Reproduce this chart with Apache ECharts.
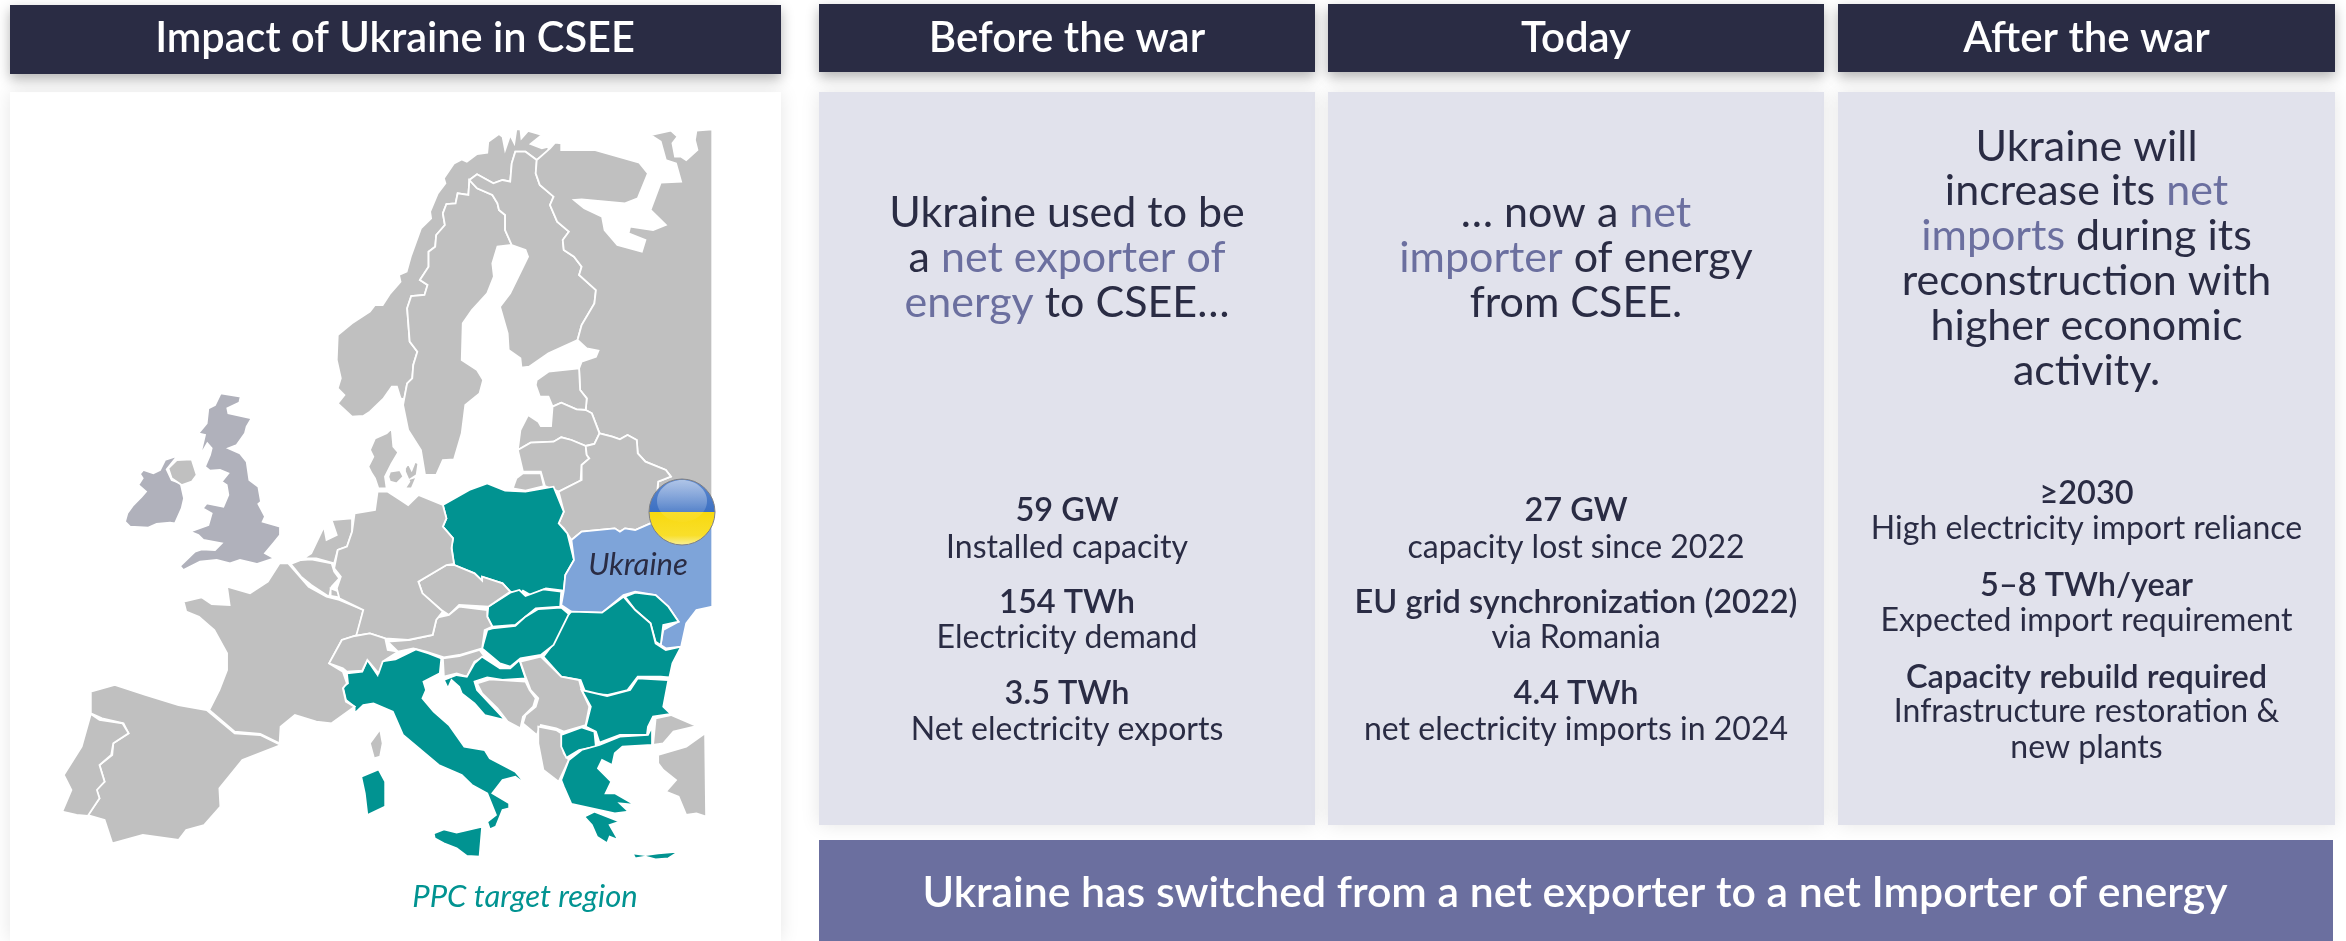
<!DOCTYPE html>
<html>
<head>
<meta charset="utf-8">
<title>Impact of Ukraine in CSEE</title>
<script src="https://cdn.jsdelivr.net/npm/echarts@6/dist/echarts.min.js"></script>
<style>
  html, body { margin: 0; padding: 0; background: #fff; }
  #chart { width: 2346px; height: 941px; }
</style>
</head>
<body>
<div id="chart"></div>
<script>
// Text content
const MAP_TITLE = 'Impact of Ukraine in CSEE';
const COLUMN_TITLES = ['Before the war', 'Today', 'After the war'];
const INTRO_BEFORE = ['Ukraine used to be', 'a {hi|net exporter of}', '{hi|energy} to CSEE…'];
const INTRO_TODAY = ['… now a {hi|net}', '{hi|importer} of energy', 'from CSEE.'];
const INTRO_AFTER = ['Ukraine will', 'increase its {hi|net}', '{hi|imports} during its', 'reconstruction with', 'higher economic', 'activity.'];
const STATS_BEFORE = ['59 GW', 'Installed capacity', '154 TWh', 'Electricity demand', '3.5 TWh', 'Net electricity exports'];
const STATS_TODAY = ['27 GW', 'capacity lost since 2022', 'EU grid synchronization (2022)', 'via Romania', '4.4 TWh', 'net electricity imports in 2024'];
const STATS_AFTER = ['≥2030', 'High electricity import reliance', '5–8 TWh/year', 'Expected import requirement', 'Capacity rebuild required', 'Infrastructure restoration &', 'new plants'];
const STATS_AFTER_BOLD = [0, 2, 4];
const TAKEAWAY = 'Ukraine has switched from a net exporter to a net Importer of energy';
const UKRAINE_LABEL = 'Ukraine';
const REGION_LABEL = 'PPC target region';

// Country outlines
const NO_SE = [[920,540],[918,585],[897,580],[893,610],[875,612],[868,640],[872,675],[855,705],[853,740],[840,755],[840,800],[823,840],[838,855],[832,885],[806,888],[798,925],[803,1025],[818,1055],[810,1095],[808,1135],[798,1150],[792,1198]];
const FI_SE = [[920,540],[935,565],[965,585],[975,610],[978,630],[990,645],[990,690],[1003,735]];
const FI_RU = [[1052,480],[1050,520],[1058,555],[1085,590],[1078,615],[1092,665],[1115,695],[1103,720],[1105,750],[1125,770],[1140,800],[1135,825],[1168,870],[1165,910],[1140,975],[1132,1020]];

const NORWAY = [[690,1250],[662,1210],[675,1185],[662,1165],[668,1135],[660,1080],[662,1005],[690,970],[725,935],[735,915],[750,915],[765,880],[785,845],[782,825],[797,815],[805,770],[825,685],[845,655],[843,635],[858,580],[873,550],[870,535],[890,490],[905,478],[915,485],[935,462],[955,458],[957,425],[978,402],[985,410],[990,450],[1000,405],[1008,430],[1012,388],[1020,388],[1022,415],[1035,393],[1062,405],[1040,432],[1062,445],[1075,440],[1075,455],[1052,480],[1030,455],[1010,455],[1003,490],[1000,545],[985,540],[967,550],[935,523],[920,540],...NO_SE.slice(1),[785,1195],[778,1160],[768,1160],[752,1195],[725,1235],[712,1248]];
const SWEDEN = [...FI_SE,[975,740],[965,790],[968,830],[955,880],[925,930],[907,970],[905,1080],[935,1110],[947,1140],[940,1180],[912,1215],[905,1300],[890,1378],[868,1380],[855,1425],[833,1425],[825,1350],[800,1290],[790,1215],...NO_SE.slice().reverse()];
const FINLAND = [...FI_SE,[1030,750],[1035,770],[1000,880],[980,920],[995,1000],[997,1050],[1020,1075],[1022,1103],[1037,1100],[1075,1060],...FI_RU.slice().reverse(),[1030,455],[1010,455],[1003,490],[1000,545],[985,540],[967,550],[935,523]];
const RUSSIA_N = [[1396,388],[1365,392],[1362,420],[1367,450],[1345,480],[1335,470],[1323,470],[1318,430],[1328,410],[1315,392],[1275,405],[1295,425],[1305,480],[1325,490],[1335,545],[1295,548],[1275,630],[1305,675],[1280,690],[1235,680],[1232,700],[1265,720],[1258,755],[1210,735],[1185,690],[1180,650],[1145,625],[1125,600],[1140,598],[1225,610],[1250,595],[1270,520],[1253,488],[1165,450],[1100,450],[1100,430],[1088,428],[1078,445],...FI_RU,[1150,1045],[1173,1052],[1168,1070],[1140,1085],[1135,1105],[1137,1170],[1150,1195],[1148,1230],[1160,1240],[1175,1300],[1200,1310],[1215,1318],[1230,1305],[1248,1320],[1250,1360],[1265,1385],[1305,1410],[1315,1430]];
const RUSSIA_S = [[1290,65],[1285,150],[1275,190],[1396,150]];
const ESTONIA = [[1135,1105],[1137,1170],[1150,1195],[1148,1230],[1130,1228],[1100,1208],[1083,1220],[1075,1190],[1058,1190],[1050,1155],[1052,1140],[1075,1115]];
const LATVIA = [[1148,1230],[1160,1240],[1175,1300],[1165,1332],[1148,1338],[1120,1320],[1100,1312],[1085,1325],[1040,1328],[1015,1350],[1020,1290],[1035,1245],[1055,1265],[1060,1278],[1080,1278],[1083,1220],[1100,1208],[1130,1228]];
const LITHUANIA_N = [[1015,1350],[1040,1328],[1085,1325],[1100,1312],[1120,1320],[1148,1338],[1150,1365],[1155,1375],[1140,1395],[1138,1440]];
const LITHUANIA_S = [[1140,60],[1095,95],[1068,78],[1060,35],[1025,35]];
const BELARUS_N = [[1148,1338],[1165,1332],[1175,1300],[1200,1310],[1215,1318],[1230,1305],[1248,1320],[1250,1360],[1265,1385],[1305,1410],[1315,1430]];
const BELARUS_S = [[1290,65],[1285,150],[1275,190],[1245,210],[1225,205],[1215,215],[1205,205],[1140,215],[1120,240],[1105,205],[1095,190],[1105,155],[1095,95],[1140,60],[1140,15],[1155,-5],[1150,-15]];

const KALININGRAD = [[1005,85],[1012,55],[1025,40],[1060,40],[1066,78],[1030,92]];
const POLAND = [[868,135],[920,90],[955,70],[990,92],[1030,95],[1085,80],[1105,155],[1095,190],[1112,220],[1125,300],[1108,345],[1105,392],[1070,385],[1040,405],[1025,392],[1018,405],[1000,395],[985,370],[945,350],[945,362],[930,340],[890,315],[885,260],[888,235],[868,200],[875,175]];
const UKRAINE = [[1120,240],[1140,215],[1205,205],[1215,215],[1225,205],[1245,210],[1275,190],[1396,150],[1396,440],[1365,450],[1345,490],[1335,560],[1305,565],[1295,555],[1300,510],[1330,485],[1310,440],[1285,405],[1245,395],[1222,405],[1180,458],[1120,455],[1100,435],[1105,392],[1108,345],[1125,300]];
const MOLDOVA = [[1225,410],[1245,398],[1285,405],[1310,440],[1330,485],[1300,495],[1295,555],[1285,545],[1275,490],[1245,450]];
const ROMANIA = [[1120,455],[1180,458],[1222,410],[1245,450],[1275,490],[1285,550],[1305,570],[1335,560],[1318,610],[1312,652],[1295,650],[1250,650],[1230,690],[1190,705],[1148,700],[1138,660],[1100,650],[1065,590],[1080,560],[1110,470]];
const SLOVAKIA = [[957,440],[1000,398],[1018,390],[1030,408],[1065,388],[1100,395],[1098,440],[1050,445],[1030,470],[1010,495],[965,500],[955,470]];
const HUNGARY = [[965,505],[1010,498],[1030,470],[1055,447],[1100,443],[1115,462],[1085,555],[1060,585],[1020,595],[1000,620],[980,610],[945,565],[955,510]];
const CZECHIA = [[820,365],[875,315],[890,315],[930,340],[945,362],[945,350],[985,370],[1000,395],[957,440],[900,435],[880,465],[865,450],[828,400]];
const AUSTRIA = [[850,475],[880,465],[900,440],[955,450],[955,470],[965,500],[950,510],[945,565],[900,585],[870,592],[835,575],[810,565],[780,575],[760,545],[800,540],[848,525],[855,480]];
const SLOVENIA = [[868,595],[900,588],[940,570],[950,590],[930,605],[915,650],[895,640],[870,650]];
const CROATIA = [[870,660],[895,645],[915,650],[930,610],[945,590],[980,625],[1000,625],[1018,600],[1030,655],[985,660],[955,652],[930,665],[935,690],[990,780],[950,765],[930,730],[905,700],[900,680],[885,660],[878,685]];
const BOSNIA = [[935,670],[960,658],[1030,665],[1038,690],[1050,715],[1045,740],[1025,770],[1020,805],[995,785],[975,745],[945,700]];
const SERBIA = [[1020,605],[1060,590],[1100,650],[1135,660],[1140,690],[1155,740],[1148,795],[1105,815],[1090,805],[1060,795],[1052,825],[1025,790],[1030,765],[1050,740],[1055,715],[1040,690],[1030,650]];
const ALBANIA = [[1055,800],[1090,810],[1100,820],[1105,880],[1115,900],[1095,965],[1065,930],[1055,850]];
const MACEDONIA = [[1100,825],[1140,802],[1165,815],[1168,860],[1135,870],[1110,893],[1100,860]];
const BULGARIA = [[1140,690],[1190,708],[1235,690],[1250,655],[1310,660],[1300,740],[1315,762],[1280,770],[1270,800],[1268,825],[1215,825],[1175,848],[1168,815],[1148,800],[1158,740]];
const GREECE = [[1115,900],[1140,870],[1175,855],[1215,830],[1270,825],[1278,800],[1278,855],[1220,860],[1205,880],[1200,915],[1180,900],[1172,925],[1198,965],[1187,1000],[1205,1000],[1245,1035],[1215,1030],[1232,1055],[1205,1060],[1120,1032],[1105,980],[1100,960]];
const PELOPONNESE = [[1145,1070],[1165,1055],[1215,1085],[1195,1095],[1212,1140],[1195,1130],[1190,1150],[1170,1130],[1160,1095]];
const CRETE = [[1240,1180],[1265,1185],[1290,1180],[1330,1175],[1310,1195],[1285,1198],[1265,1190],[1245,1195]];
const TURKEY_EU = [[1285,775],[1315,765],[1365,798],[1320,815],[1300,850],[1280,855]];
const TURKEY_AS = [[1290,885],[1345,860],[1382,820],[1384,1070],[1365,1060],[1345,1065],[1330,1010],[1305,995],[1325,960],[1300,930],[1290,910]];
const ITALY = [[680,640],[710,635],[720,600],[740,645],[745,605],[775,598],[815,568],[840,580],[865,595],[862,640],[830,665],[835,690],[828,715],[850,755],[880,795],[910,860],[950,870],[960,895],[1010,935],[1032,975],[1010,950],[985,960],[965,1000],[998,1030],[998,1045],[985,1050],[972,1100],[960,1108],[955,1085],[972,1065],[955,1000],[925,975],[905,945],[860,915],[790,825],[770,755],[732,730],[712,735],[695,760],[695,740],[678,720],[672,680],[682,670]];
const SICILY = [[850,1120],[870,1108],[895,1118],[945,1100],[940,1190],[915,1188],[895,1165],[870,1150],[852,1135]];
const SARDINIA = [[708,950],[742,928],[755,965],[755,1040],[720,1065],[715,1000]];
const CORSICA = [[725,850],[745,808],[750,850],[745,890],[733,895]];
const FRANCE = [[360,425],[395,412],[415,432],[450,435],[445,380],[490,400],[525,365],[548,310],[565,310],[605,380],[640,410],[665,420],[712,450],[700,525],[670,540],[645,610],[672,635],[680,670],[672,685],[678,725],[695,740],[650,790],[620,785],[578,765],[550,800],[548,850],[510,822],[460,815],[410,750],[430,690],[445,630],[445,580],[420,510],[390,470],[365,455]];
const SPAIN = [[178,695],[225,675],[285,705],[350,735],[405,750],[460,820],[510,825],[550,855],[475,900],[430,985],[432,1040],[400,1095],[365,1110],[350,1140],[280,1125],[220,1150],[205,1080],[172,1065],[195,1015],[188,985],[205,965],[195,915],[220,885],[222,850],[252,820],[242,790],[200,775],[178,760]];
const PORTUGAL = [[178,762],[195,780],[240,790],[252,820],[222,850],[218,885],[195,915],[205,965],[190,990],[195,1015],[172,1068],[150,1065],[122,1055],[140,990],[130,960],[125,945],[160,860]];
const BELGIUM = [[570,312],[590,300],[610,298],[650,310],[655,335],[665,355],[650,380],[645,410],[610,375],[590,350]];
const LUXEMBOURG = [[648,385],[665,395],[665,412],[648,408]];
const NETHERLANDS = [[595,295],[610,280],[635,200],[640,240],[660,225],[650,180],[690,175],[690,215],[680,260],[662,270],[655,310],[620,295]];
const GERMANY = [[695,160],[735,150],[740,95],[760,95],[785,120],[800,135],[820,105],[868,135],[875,175],[868,200],[888,235],[885,265],[890,312],[875,315],[820,365],[828,400],[868,455],[855,480],[848,525],[800,540],[755,535],[725,520],[698,528],[712,450],[665,415],[660,385],[668,350],[655,325],[662,270],[680,260],[690,215]];
const SWITZERLAND = [[645,610],[670,540],[695,528],[725,520],[755,535],[760,570],[780,575],[750,605],[742,640],[720,600],[710,632],[680,635],[672,625]];

// read from the close-ups of Britain and Denmark
const BRITAIN = [[302,40],[362,50],[358,68],[322,85],[325,100],[395,115],[380,140],[375,160],[350,195],[325,205],[360,220],[380,245],[388,300],[415,320],[423,365],[415,372],[435,410],[428,425],[480,440],[480,465],[460,490],[435,520],[462,535],[410,552],[360,540],[330,550],[290,540],[240,545],[190,570],[180,558],[225,515],[245,508],[285,510],[305,490],[250,480],[235,465],[210,455],[265,435],[275,400],[248,385],[260,370],[310,380],[325,345],[320,315],[305,305],[325,280],[300,270],[270,272],[255,260],[270,225],[275,205],[262,190],[240,228],[255,165],[235,160],[260,130],[265,85],[285,75]];
const IRELAND = [[70,270],[100,280],[120,270],[135,240],[172,228],[140,268],[155,300],[182,310],[192,355],[185,385],[165,430],[150,428],[110,432],[85,443],[30,440],[15,425],[22,400],[40,375],[65,350],[78,335],[55,315],[68,295],[60,282]];
const N_IRELAND = [[145,265],[170,240],[215,238],[230,285],[215,305],[185,315],[155,295]];
const JUTLAND = [[155,25],[160,80],[175,97],[155,130],[135,170],[140,205],[115,205],[105,175],[95,160],[85,140],[100,110],[90,90],[105,55],[140,40]];
const FUNEN = [[150,155],[180,150],[190,170],[170,190],[150,185],[145,170]];
const ZEALAND = [[195,145],[205,130],[215,150],[225,125],[235,130],[230,165],[215,175],[230,170],[215,205],[195,205],[208,185],[195,155]];

const TEAL_GROUP = ['Poland', 'Slovakia', 'Hungary', 'Romania', 'Moldova', 'Bulgaria', 'Croatia', 'North Macedonia', 'Greece', 'Italy'];
const UK_GROUP = ['Britain', 'Ireland'];

// the crops were stretched differently, so bring everything back to page pixels
const fromTop = pts => pts.map(([x, y]) => [x / 1.96, y / 3]);
const fromLow = pts => pts.map(([x, y]) => [x / 1.96, y / 3 + 460]);
const fromUk = pts => pts.map(([x, y]) => [120 + x / 3, 380 + y / 3]);
const fromDk = pts => pts.map(([x, y]) => [340 + x / 3, 420 + y / 3]);

const COUNTRIES = {
  Norway: [fromTop(NORWAY)],
  Sweden: [fromTop(SWEDEN)],
  Finland: [fromTop(FINLAND)],
  Russia: [fromTop(RUSSIA_N).concat(fromLow(RUSSIA_S))],
  Estonia: [fromTop(ESTONIA)],
  Latvia: [fromTop(LATVIA)],
  Lithuania: [fromTop(LITHUANIA_N).concat(fromLow(LITHUANIA_S))],
  Belarus: [fromTop(BELARUS_N).concat(fromLow(BELARUS_S))],
  Kaliningrad: [fromLow(KALININGRAD)],
  Poland: [fromLow(POLAND)],
  Ukraine: [fromLow(UKRAINE)],
  Moldova: [fromLow(MOLDOVA)],
  Romania: [fromLow(ROMANIA)],
  Slovakia: [fromLow(SLOVAKIA)],
  Hungary: [fromLow(HUNGARY)],
  Czechia: [fromLow(CZECHIA)],
  Austria: [fromLow(AUSTRIA)],
  Slovenia: [fromLow(SLOVENIA)],
  Croatia: [fromLow(CROATIA)],
  Bosnia: [fromLow(BOSNIA)],
  Serbia: [fromLow(SERBIA)],
  Albania: [fromLow(ALBANIA)],
  'North Macedonia': [fromLow(MACEDONIA)],
  Bulgaria: [fromLow(BULGARIA)],
  Greece: [fromLow(GREECE), fromLow(PELOPONNESE), fromLow(CRETE)],
  Turkey: [fromLow(TURKEY_EU), fromLow(TURKEY_AS)],
  Italy: [fromLow(ITALY), fromLow(SICILY), fromLow(SARDINIA)],
  Corsica: [fromLow(CORSICA)],
  France: [fromLow(FRANCE)],
  Spain: [fromLow(SPAIN)],
  Portugal: [fromLow(PORTUGAL)],
  Belgium: [fromLow(BELGIUM)],
  Luxembourg: [fromLow(LUXEMBOURG)],
  Netherlands: [fromLow(NETHERLANDS)],
  Germany: [fromLow(GERMANY)],
  Switzerland: [fromLow(SWITZERLAND)],
  Britain: [fromUk(BRITAIN)],
  Ireland: [fromUk(IRELAND)],
  'Northern Ireland': [fromUk(N_IRELAND)],
  Denmark: [fromDk(JUTLAND), fromDk(FUNEN), fromDk(ZEALAND)]
};

const NAVY = '#2a2c44';
const PURPLE = '#6b6f9f';
const PANEL = '#e1e2ec';
const TEAL = '#019391';
const FONT = 'Lato';

const geoJson = {
  type: 'FeatureCollection',
  features: Object.keys(COUNTRIES).map(name => ({
    type: 'Feature',
    properties: { name },
    geometry: {
      type: 'MultiPolygon',
      coordinates: COUNTRIES[name].map(ring => [ring.concat([ring[0]])])
    }
  }))
};
echarts.registerMap('csee', geoJson);

function countryColor(name) {
  if (name === 'Ukraine') return '#7ea4d9';
  if (TEAL_GROUP.includes(name)) return TEAL;
  if (UK_GROUP.includes(name)) return '#b0b1bb';
  return '#c0c0c0';
}

// keep the map at page scale: place it on its own bounding box
const allPoints = Object.values(COUNTRIES).flat(2);
const minX = Math.min(...allPoints.map(p => p[0]));
const maxX = Math.max(...allPoints.map(p => p[0]));
const minY = Math.min(...allPoints.map(p => p[1]));
const maxY = Math.max(...allPoints.map(p => p[1]));

function box(x, y, w, h, fill, shadow) {
  return {
    type: 'rect',
    z: 0,
    shape: { x, y, width: w, height: h },
    style: Object.assign({ fill }, shadow || {})
  };
}

function text(x, y, str, size, weight, color, extra) {
  return {
    type: 'text',
    z: 10,
    x,
    y,
    style: Object.assign({
      text: str,
      fill: color || NAVY,
      font: `${weight} ${size}px ${FONT}`,
      textAlign: 'center',
      textVerticalAlign: 'middle'
    }, extra || {})
  };
}

const HEADER_SHADOW = { shadowBlur: 12, shadowOffsetY: 5, shadowColor: 'rgba(0,0,0,0.3)' };
const SOFT_SHADOW = { shadowBlur: 18, shadowColor: 'rgba(0,0,0,0.1)' };
const COLUMNS = [
  { x: 819, w: 496, intro: INTRO_BEFORE, stats: STATS_BEFORE },
  { x: 1328, w: 496, intro: INTRO_TODAY, stats: STATS_TODAY },
  { x: 1838, w: 497, intro: INTRO_AFTER, stats: STATS_AFTER }
];
const INTRO_Y_3 = [213, 258, 303];
const INTRO_Y_6 = [147, 191, 236, 281, 326, 371];
const STATS_Y_6 = [511, 548, 603, 638, 694, 730];
const STATS_Y_7 = [494, 529, 586, 621, 678, 712, 748];

const graphics = [];
graphics.push(box(10, 92, 771, 849, '#fff', SOFT_SHADOW));
graphics.push(box(10, 5, 771, 69, NAVY, HEADER_SHADOW));
graphics.push(text(395, 39, MAP_TITLE, 41.5, 600, '#fff'));

COLUMNS.forEach((col, i) => {
  const cx = col.x + col.w / 2;
  graphics.push(box(col.x, 92, col.w, 733, PANEL, SOFT_SHADOW));
  graphics.push(box(col.x, 4, col.w, 68, NAVY, HEADER_SHADOW));
  graphics.push(text(cx, 38, COLUMN_TITLES[i], 42, 600, '#fff'));
  const introY = col.intro.length === 3 ? INTRO_Y_3 : INTRO_Y_6;
  col.intro.forEach((line, k) => {
    graphics.push(text(cx, introY[k], line, 43, 400, NAVY, {
      rich: { hi: { fill: PURPLE, font: `400 43px ${FONT}` } }
    }));
  });
  const statsY = col.stats.length === 6 ? STATS_Y_6 : STATS_Y_7;
  col.stats.forEach((line, k) => {
    const bold = col.stats.length === 6 ? k % 2 === 0 : STATS_AFTER_BOLD.includes(k);
    graphics.push(text(cx, statsY[k], line, bold ? 32.5 : 32, bold ? 600 : 400, NAVY));
  });
});

graphics.push(box(819, 840, 1514, 101, PURPLE));
graphics.push(text(1575, 893, TAKEAWAY, 42.8, 600, '#fff'));

graphics.push(text(638, 565, UKRAINE_LABEL, 31, 'italic 400', NAVY));
graphics.push(text(525, 897, REGION_LABEL, 31, 'italic 400', TEAL));

// flag badge on top of Ukraine
graphics.push({
  type: 'circle',
  z: 20,
  shape: { cx: 682, cy: 512, r: 33 },
  style: {
    fill: new echarts.graphic.LinearGradient(0, 0, 0, 1, [
      { offset: 0, color: '#5f8ad0' },
      { offset: 0.5, color: '#3c70c2' },
      { offset: 0.5, color: '#f8d90f' },
      { offset: 0.85, color: '#f9df2a' },
      { offset: 1, color: '#f7f0a0' }
    ]),
    stroke: '#7f8084',
    lineWidth: 1
  }
});
graphics.push({
  type: 'ellipse',
  z: 21,
  shape: { cx: 682, cy: 501, rx: 25, ry: 21 },
  style: {
    fill: new echarts.graphic.LinearGradient(0, 0, 0, 1, [
      { offset: 0, color: 'rgba(255,255,255,0.5)' },
      { offset: 1, color: 'rgba(255,255,255,0.02)' }
    ])
  }
});

const chart = echarts.init(document.getElementById('chart'), null, { renderer: 'canvas' });
chart.setOption({
  animation: false,
  backgroundColor: '#fff',
  graphic: { elements: graphics },
  series: [
    {
      type: 'map',
      map: 'csee',
      z: 5,
      silent: true,
      roam: false,
      projection: { project: p => p, unproject: p => p },
      left: minX,
      top: minY,
      width: maxX - minX,
      height: maxY - minY,
      label: { show: false },
      emphasis: { disabled: true },
      select: { disabled: true },
      itemStyle: { borderColor: '#fff', borderWidth: 1.8, areaColor: '#c0c0c0' },
      data: Object.keys(COUNTRIES).map(name => ({
        name,
        value: 1,
        itemStyle: { areaColor: countryColor(name), borderColor: '#fff', borderWidth: 1.8 }
      }))
    }
  ]
});
</script>
</body>
</html>
